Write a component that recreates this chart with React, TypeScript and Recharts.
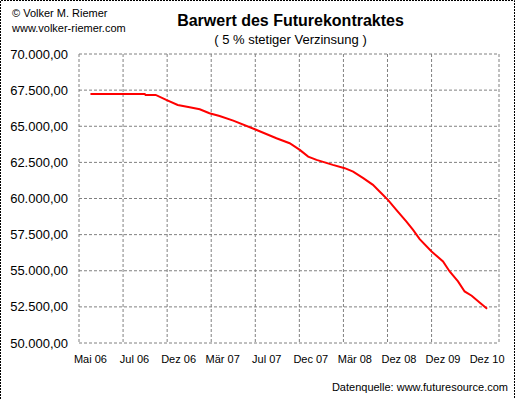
import React from 'react';
import { LineChart, Line, XAxis, YAxis, CartesianGrid } from 'recharts';

// category labels on the x axis (one per unit of position)
const tickLabels = ['Mai 06', 'Jul 06', 'Dez 06', 'Mär 07', 'Jul 07', 'Dec 07', 'Mär 08', 'Dez 08', 'Dez 09', 'Dez 10'];

// position along the category axis
const positions = [
  0, 1.23, 1.25, 1.48, 1.72, 1.98, 2.25, 2.48, 2.7, 2.93, 3.24, 3.73, 4.22, 4.52, 4.75, 4.94, 5.13, 5.5,
  5.77, 5.96, 6.19, 6.41, 6.56, 6.75, 6.94, 7.17, 7.32, 7.47, 7.74, 8.0, 8.15, 8.34, 8.49, 8.65, 8.83, 9.0,
];

// present value of the future contract
const values = [
  67235, 67235, 67166, 67166, 66820, 66474, 66315, 66177, 65901, 65714, 65389, 64794, 64172, 63827, 63364, 62900, 62672, 62327,
  62099, 61863, 61407, 60944, 60481, 59907, 59216, 58407, 57833, 57190, 56333, 55642, 54950, 54259, 53568, 53271, 52807, 52372,
];

const yTicks = [50000, 52500, 55000, 57500, 60000, 62500, 65000, 67500, 70000];

const data = positions.map((p, i) => ({ pos: p, value: values[i] }));

const xDomain: [number, number] = [-0.26, 9.27];
const labelTicks = tickLabels.map((_, i) => i);
const gridTicks = [...tickLabels.map((_, i) => i - 0.26), 9.27];

const font = '"Liberation Sans", Arial, sans-serif';

const fmt = (v: number) => {
  const s = Math.round(v).toString().replace(/\B(?=(\d{3})+(?!\d))/g, '.');
  return s + ',00';
};

export default function App() {
  return (
    <div style={{ position: 'absolute', left: 0, top: 0, width: 517, height: 399, background: '#fff', fontFamily: font }}>
      <LineChart width={517} height={399} data={data} margin={{ top: 54, right: 18, bottom: 0, left: 0 }}>
        <CartesianGrid xAxisId="grid" stroke="#808080" strokeDasharray="3 2" />
        <XAxis
          xAxisId="grid"
          dataKey="pos"
          type="number"
          domain={xDomain}
          ticks={gridTicks}
          allowDataOverflow
          height={0}
          hide
        />
        <XAxis
          xAxisId="main"
          dataKey="pos"
          type="number"
          domain={xDomain}
          ticks={labelTicks}
          interval={0}
          allowDataOverflow
          height={56}
          axisLine={false}
          tickLine={false}
          tickMargin={6}
          tickFormatter={(v: number) => tickLabels[v] ?? ''}
          tick={{ fill: '#000', fontSize: 11, fontFamily: font }}
        />
        <YAxis
          type="number"
          domain={[50000, 70000]}
          ticks={yTicks}
          interval={0}
          width={79}
          axisLine={false}
          tickLine={false}
          tickMargin={5}
          tickFormatter={fmt}
          tick={{ fill: '#000', fontSize: 13, fontFamily: font }}
        />
        <Line
          xAxisId="main"
          type="linear"
          dataKey="value"
          stroke="#ff0000"
          strokeWidth={2}
          dot={false}
          isAnimationActive={false}
        />
      </LineChart>
      <svg width={517} height={399} style={{ position: 'absolute', left: 0, top: 0, pointerEvents: 'none' }}>
        {/* dashed frame: left, top and right edges only */}
        <path d="M0.5,399 V0.5 H514.5 V399" fill="none" stroke="#000" strokeDasharray="2 1" />
        <text x={12} y={17} fontSize={11} fontFamily={font} fill="#000">© Volker M. Riemer</text>
        <text x={12} y={31.5} fontSize={11} fontFamily={font} fill="#000">www.volker-riemer.com</text>
        <text x={290.5} y={26} fontSize={16} fontWeight="bold" fontFamily={font} fill="#000" textAnchor="middle">
          Barwert des Futurekontraktes
        </text>
        <text x={290.5} y={44} fontSize={13} fontFamily={font} fill="#000" textAnchor="middle">
          ( 5 % stetiger Verzinsung )
        </text>
        <text x={508} y={391} fontSize={11} fontFamily={font} fill="#000" textAnchor="end">
          Datenquelle:  www.futuresource.com
        </text>
      </svg>
    </div>
  );
}
